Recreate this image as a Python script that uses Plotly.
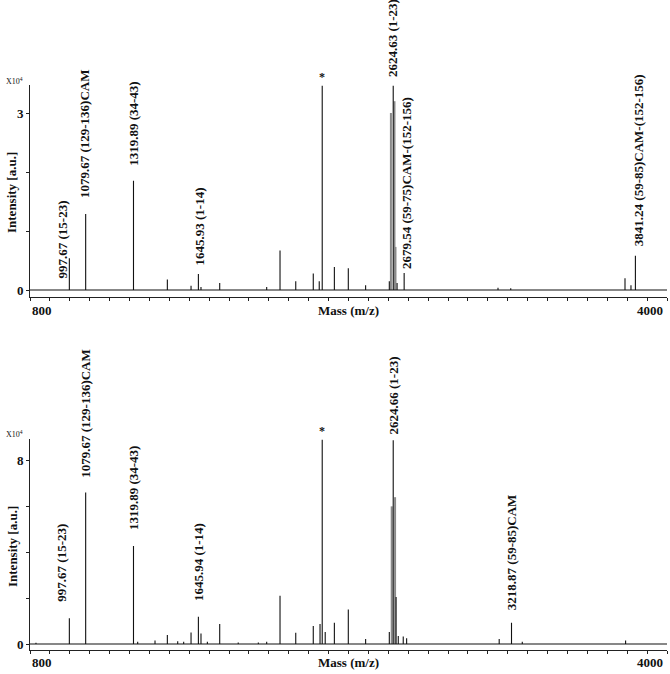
import plotly.graph_objects as go

# ---------------- data (m/z, intensity in counts) ----------------
top_mass = [997.67, 1079.67, 1319.89, 1490, 1609, 1645.93, 1659, 1753, 1989, 2056, 2135,
            2223, 2253, 2268, 2329, 2399, 2486, 2605, 2624.63, 2644, 2679.54, 3151, 3215,
            3789, 3819, 3841.24]
top_int = [5400, 12900, 18500, 1800, 700, 2700, 500, 1200, 500, 6700, 1500,
           2800, 1500, 34600, 3900, 3700, 800, 1500, 34600, 1200, 2900, 400, 300,
           2000, 800, 5800]
top_iso_mass = [2613, 2631, 2636]
top_iso_int = [30000, 32000, 7300]

bot_mass = [830, 997.67, 1079.67, 1319.89, 1341, 1428, 1490, 1542, 1572, 1609, 1645.94, 1659,
            1691, 1753, 1846, 1947, 1989, 2056, 2135, 2223, 2257, 2268, 2283, 2329, 2399,
            2486, 2605, 2624.66, 2639, 2650, 2675, 2692, 3157, 3218.87, 3273, 3792]
bot_int = [500, 11200, 66000, 42700, 1000, 1500, 3900, 1200, 1000, 5000, 11900, 4600,
           1000, 8700, 600, 600, 1000, 21000, 4900, 7800, 8700, 89000, 5200, 9300, 15000,
           2200, 5200, 88800, 20500, 3500, 3300, 2500, 2200, 9300, 1000, 1500]
bot_iso_mass = [2617, 2634]
bot_iso_int = [60000, 64000]

top_labels = ["997.67 (15-23)", "1079.67 (129-136)CAM", "1319.89 (34-43)", "1645.93 (1-14)",
              "2624.63 (1-23)", "2679.54 (59-75)CAM-(152-156)", "3841.24 (59-85)CAM-(152-156)"]
top_label_mass = [997.67, 1079.67, 1319.89, 1645.93, 2624.63, 2679.54, 3841.24]
top_star_mass = 2268

bot_labels = ["997.67 (15-23)", "1079.67 (129-136)CAM", "1319.89 (34-43)", "1645.94 (1-14)",
              "2624.66 (1-23)", "3218.87 (59-85)CAM"]
bot_label_mass = [997.67, 1079.67, 1319.89, 1645.94, 2624.66, 3218.87]
bot_star_mass = 2268

top_ylabel_vals = [0, 30000]
top_ylabel_text = ["0", "3"]
top_yminor = [10000, 20000]
bot_ylabel_vals = [0, 80000]
bot_ylabel_text = ["0", "8"]
bot_yminor = [20000, 40000, 60000]
x_ticks = list(range(800, 4001, 100))
x_end_labels = ["800", "4000"]

# ---------------- layout helpers (pixel geometry) ----------------
W, H = 670, 674
L, R = 30, 667
top_lab_shift = [(-7, -22), (-1, 14), (0, 13), (1, 7), (0, 7), (3, 2), (3, 8)]
bot_lab_shift = [(-8, 15), (-1, 13), (0, 14), (0, 14), (0, 4), (0, 10)]
FONT = "Liberation Serif, Times New Roman, serif"


def px_x(px):
    return (px - L) / (R - L)


def px_y(py):
    return (H - py) / H


def polyline(masses, ints):
    pairs = sorted(zip(masses, ints))
    xs, ys = [800], [0]
    for m, h in pairs:
        xs += [m, m, m]
        ys += [0, h, 0]
    xs.append(4000)
    ys.append(0)
    return xs, ys


def sticks(masses, ints):
    xs, ys = [], []
    for m, h in zip(masses, ints):
        xs += [m, m, None]
        ys += [0, h, None]
    return xs, ys


fig = go.Figure()
for xa, ya, iso_m, iso_i, ms, its in [("x", "y", top_iso_mass, top_iso_int, top_mass, top_int),
                                      ("x2", "y2", bot_iso_mass, bot_iso_int, bot_mass, bot_int)]:
    gx, gy = sticks(iso_m, iso_i)
    fig.add_trace(go.Scatter(x=gx, y=gy, mode="lines", line=dict(color="#8a8a8a", width=2),
                             xaxis=xa, yaxis=ya, showlegend=False, hoverinfo="skip"))
    bx, by = polyline(ms, its)
    fig.add_trace(go.Scatter(x=bx, y=by, mode="lines", line=dict(color="#111111", width=1.1),
                             xaxis=xa, yaxis=ya, showlegend=False))

axis_common = dict(showline=True, linecolor="#222", linewidth=1, ticks="outside", ticklen=3,
                   tickcolor="#222", showgrid=False, zeroline=False, automargin=False,
                   tickfont=dict(family=FONT, size=13, color="#111", weight="bold"))

top_dom = [px_y(297), px_y(85)]
bot_dom = [px_y(650), px_y(439)]


def yrange(zero_px, per1e4, top_px, bot_px):
    return [-(bot_px - zero_px) / per1e4 * 1e4, (zero_px - top_px) / per1e4 * 1e4]


fig.update_layout(
    template="none",
    width=W, height=H, margin=dict(l=L, r=W - R, t=0, b=0, pad=0),
    paper_bgcolor="white", plot_bgcolor="white",
    xaxis=dict(domain=[0, 1], anchor="y", range=[800, 4000], tickvals=x_ticks,
               showticklabels=False, **axis_common),
    yaxis=dict(domain=top_dom, anchor="x", range=yrange(290, 59, 85, 297),
               tickvals=top_ylabel_vals, ticktext=top_ylabel_text,
               minor=dict(tickvals=top_yminor, ticks="outside", ticklen=3, tickcolor="#222",
                          showgrid=False),
               **axis_common),
    xaxis2=dict(domain=[0, 1], anchor="y2", range=[800, 4000], tickvals=x_ticks,
                showticklabels=False, **axis_common),
    yaxis2=dict(domain=bot_dom, anchor="x2", range=yrange(644, 22.94, 439, 650),
                tickvals=bot_ylabel_vals, ticktext=bot_ylabel_text,
                minor=dict(tickvals=bot_yminor, ticks="outside", ticklen=3, tickcolor="#222",
                           showgrid=False),
                **axis_common),
)

ann = []
lab_font = dict(family=FONT, size=13, color="#111")


def lookup(m, ms, its):
    return its[min(range(len(ms)), key=lambda i: abs(ms[i] - m))]


for labels, lmass, shifts, ms, its, xr, yr, star in [
        (top_labels, top_label_mass, top_lab_shift, top_mass, top_int, "x", "y", top_star_mass),
        (bot_labels, bot_label_mass, bot_lab_shift, bot_mass, bot_int, "x2", "y2", bot_star_mass)]:
    for t, m, (dx, dy) in zip(labels, lmass, shifts):
        ann.append(dict(x=m, y=lookup(m, ms, its), xref=xr, yref=yr, text="<b>%s</b>" % t,
                        textangle=-90, showarrow=False, xanchor="center", yanchor="bottom",
                        xshift=dx, yshift=dy, font=lab_font))
    ann.append(dict(x=star, y=lookup(star, ms, its), xref=xr, yref=yr, text="<b>*</b>",
                    showarrow=False, xanchor="center", yanchor="middle", yshift=9,
                    font=dict(family=FONT, size=12, color="#111")))

for y_top, y_int, y_lab in [(81, 193, 310), (434, 547, 662)]:
    ann.append(dict(x=px_x(4), y=px_y(y_top), xref="paper", yref="paper", text="X10<sup>4</sup>",
                    showarrow=False, xanchor="left", yanchor="middle",
                    font=dict(family=FONT, size=8, color="#111")))
    ann.append(dict(x=px_x(12), y=px_y(y_int), xref="paper", yref="paper",
                    text="<b>Intensity [a.u.]</b>", textangle=-90, showarrow=False,
                    xanchor="center", yanchor="middle", font=dict(family=FONT, size=13, color="#111")))
    ann.append(dict(x=px_x(349), y=px_y(y_lab), xref="paper", yref="paper",
                    text="<b>Mass (m/z)</b>", showarrow=False, xanchor="center", yanchor="middle",
                    font=dict(family=FONT, size=13, color="#111")))
    ann.append(dict(x=px_x(30), y=px_y(y_lab), xref="paper", yref="paper",
                    text="<b>%s</b>" % x_end_labels[0], showarrow=False, xanchor="left",
                    yanchor="middle", font=dict(family=FONT, size=13, color="#111")))
    ann.append(dict(x=px_x(665), y=px_y(y_lab), xref="paper", yref="paper",
                    text="<b>%s</b>" % x_end_labels[1], showarrow=False, xanchor="right",
                    yanchor="middle", font=dict(family=FONT, size=13, color="#111")))

fig.update_layout(annotations=ann)
fig.write_html("out.html", config={"displayModeBar": False},
               post_script="document.body.style.margin='0';")
